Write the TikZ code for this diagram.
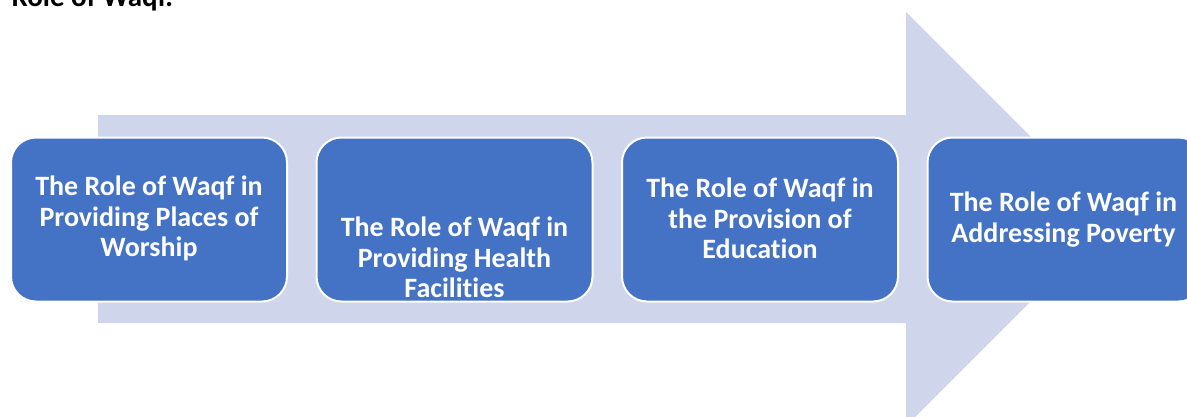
\documentclass[tikz,border=0pt]{standalone}
\usepackage{fontspec}
\setmainfont{Carlito}[Ligatures=NoCommon]
\usepackage{tikz}
\definecolor{boxblue}{HTML}{4472C4}
\definecolor{arrowblue}{HTML}{CFD5EA}

\begin{document}
\begin{tikzpicture}[x=1pt,y=-1pt,
  k/.style={rectangle,draw=white,line width=2pt,fill=boxblue,rounded corners=25pt,minimum width=276pt,minimum height=164pt},
  t/.style={text=white,font=\bfseries\fontsize{28}{30.5}\selectfont,align=center}]
  \useasboundingbox (0,0) rectangle (1187,416);
  \node[anchor=base west,font=\bfseries\fontsize{29}{32}\selectfont] (title) at (8,6.5) {Role of Waqf.};

  \fill[arrowblue] (98,115) -- (906,115) -- (906,12) -- (1113,219) -- (906,426) -- (906,323) -- (98,323) -- cycle;

  \node[k] (wo) at (149,219.5) {};
  \node[k,right=27.5pt] (he) at (wo.east) {};
  \node[k,right=27.5pt] (ed) at (he.east) {};
  \node[k,right=27.5pt] (po) at (ed.east) {};

  \node[t] (wot) at ([yshift=1pt]wo.center) {The Role of Waqf in\\Providing Places of\\Worship};
  \node[t] (het) at ([yshift=-38pt]he.center) {The Role of Waqf in\\Providing Health\\Facilities};
  \node[t] (edt) at ([yshift=1pt]ed.center) {The Role of Waqf in\\the Provision of\\Education};
  \node[t] (pot) at ([xshift=-2pt]po.center) {The Role of Waqf in\\Addressing Poverty};
\end{tikzpicture}
\end{document}
